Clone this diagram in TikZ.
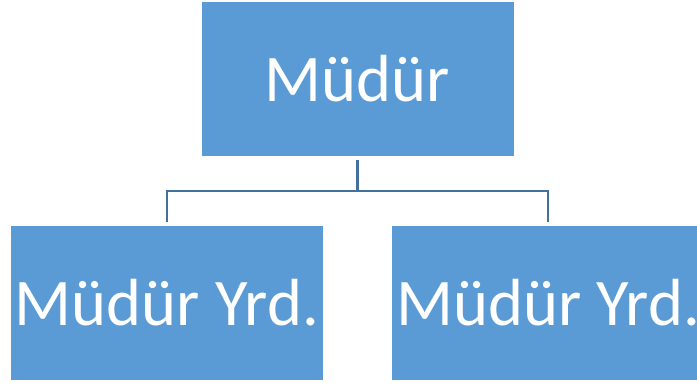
\documentclass[tikz,border=0pt]{standalone}
\usepackage{fontspec}
\setmainfont{Carlito}
\definecolor{boxblue}{RGB}{91,155,213}
\definecolor{linkblue}{RGB}{65,113,156}

\begin{document}
\begin{tikzpicture}[x=0.75pt,y=0.75pt,yscale=-1,xscale=1]
  \tikzset{
    unit/.style={fill=boxblue,draw=none,inner sep=0pt,minimum width=234pt,minimum height=115.5pt,text=white,font=\fontsize{50}{60}\selectfont},
    link/.style={draw=linkblue,line width=1.8pt,shorten <=2.5pt,shorten >=2.5pt}
  }
  \useasboundingbox (0,0) rectangle (697,385);

  % Boxes
  \node [unit] (mudur) at (357.5,79) {Müdür};
  \node [unit] (yrdA) at (167,303) {Müdür Yrd.};
  \node [unit] (yrdB) at (548,303) {Müdür Yrd.};

  % Connectors
  \coordinate (fork) at (357.5,191);
  \draw [link,shorten >=0pt] (mudur.south) -- (fork);
  \draw [link,shorten <=0pt] (fork) -| (yrdA.north);
  \draw [link,shorten <=0pt] (fork) -| (yrdB.north);
\end{tikzpicture}
\end{document}
